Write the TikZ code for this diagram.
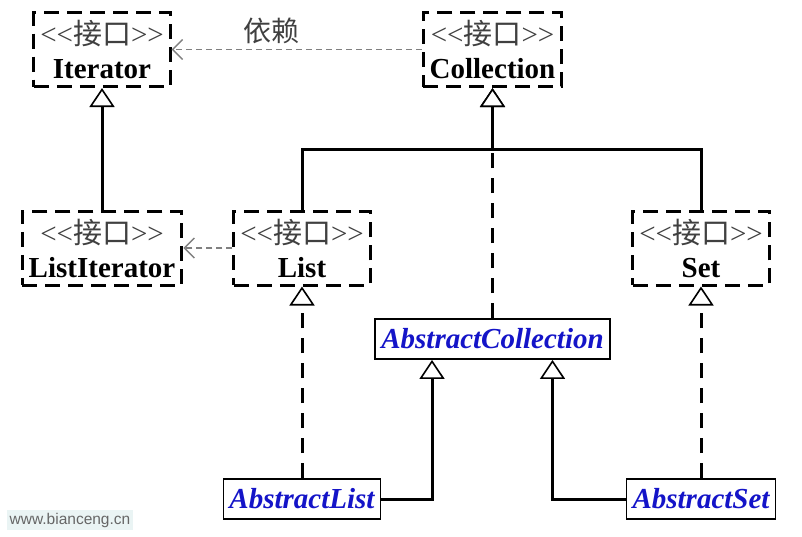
\documentclass[tikz,border=0pt]{standalone}
\usepackage{fontspec}
\setmainfont{Liberation Serif}
\newfontfamily\cjk{Noto Sans CJK SC}
\newfontfamily\webfont{Liberation Sans}
\usetikzlibrary{arrows.meta}
\definecolor{absblue}{RGB}{20,20,200}
\newcommand{\stereo}{{\color{black!75}<{}<{\cjk 接口}>{}>}}
\begin{document}
\begin{tikzpicture}[x=1pt,y=-1pt,
    iface/.style={draw,line width=3pt,dash pattern=on 15pt off 8pt,minimum width=136pt,minimum height=74pt,inner xsep=6.5pt,align=center,font=\fontsize{29}{34}\selectfont},
    absbox/.style={draw,line width=1.8pt,minimum height=40pt,inner xsep=6pt,text=absblue,font=\fontsize{29}{35}\selectfont\bfseries\itshape},
    dep/.style={draw=black!50,line width=1.4pt,dash pattern=on 6pt off 4pt,-{Straight Barb[length=10pt,width=20pt,line width=1.4pt]}},
    gen/.style={line width=3pt,-{Triangle[length=19pt,width=25pt,fill=white,line width=1.6pt]}},
    impl/.style={gen,dash pattern=on 15pt off 10pt},
    link/.style={line width=3pt}]
    \fill[white] (0,0) rectangle (802,536);
    \useasboundingbox (0,0) rectangle (802,536);
    % interfaces
    \node[iface] (iter) at (102,49.5) {\stereo\\\textbf{Iterator}};
    \node[iface] (coll) at (492.5,49.5) {\stereo\\\textbf{Collection}};
    \node[iface] (liter) at (102,248) {\stereo\\\textbf{ListIterator}};
    \node[iface] (list) at (302,248) {\stereo\\\textbf{List}};
    \node[iface] (set) at (701,248) {\stereo\\\textbf{Set}};
    % abstract classes
    \node[absbox] (abscol) at (492.5,339) {AbstractCollection};
    \node[absbox] (abslist) at (302,499) {AbstractList};
    \node[absbox] (absset) at (701,499) {AbstractSet};
    \coordinate (bus) at (492.5,149);
    \draw[dep] (coll) -- node[pos=0.6,above=5pt,inner sep=0pt,text=black!75,font=\cjk\fontsize{28}{28}\selectfont] (deplabel) {依赖} (iter);
    \draw[dep] (list) -- (liter);
    \draw[gen] (liter) -- (iter);
    \draw[link] (list.north) |- (bus) -| (set.north);
    \draw[impl] (abscol) -- (coll);
    \draw[gen] (bus) -- (coll);
    \draw[impl] (abslist) -- (list);
    \draw[impl] (absset) -- (set);
    \draw[gen] (abslist.east) -| ([xshift=-60.5pt]abscol.south);
    \draw[gen] (absset.west) -| ([xshift=60pt]abscol.south);
    \node[fill={rgb,255:red,234;green,244;blue,244},text=black!60,inner sep=3pt,font=\webfont\fontsize{15.5}{16}\selectfont] (site) at (70,520) {www.bianceng.cn};
\end{tikzpicture}
\end{document}
